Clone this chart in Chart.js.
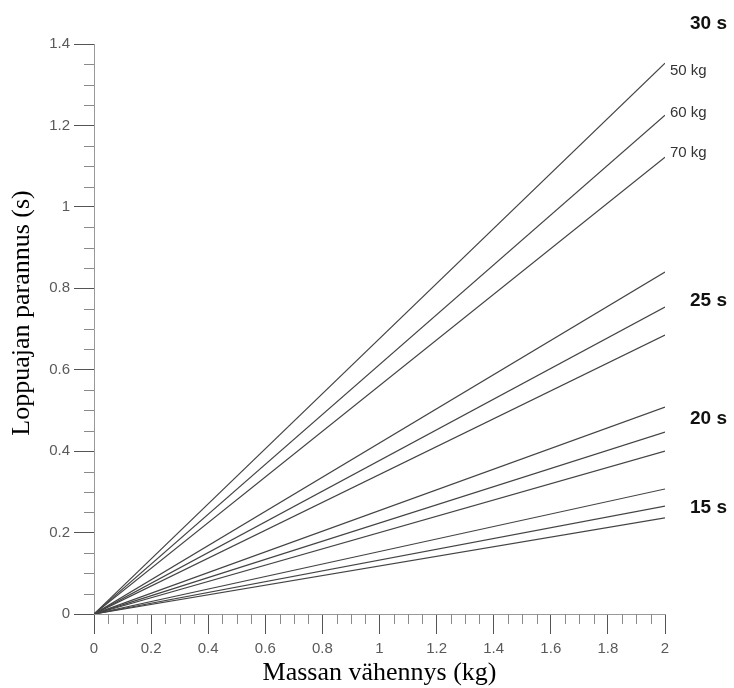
<!DOCTYPE html>
<html>
<head>
<meta charset="utf-8">
<title>Loppuajan parannus</title>
<script src="https://cdn.jsdelivr.net/npm/chart.js@4"></script>
<style>
  html, body { margin: 0; padding: 0; background: #fff; }
  #chartBox { width: 734px; height: 688px; }
</style>
</head>
<body>
<div id="chartBox"><canvas id="improvementChart" width="734" height="688"></canvas></div>
<script>
// Mass reduction (kg): every line starts at the origin and ends at 2 kg
const massReduction = [0, 2];
const raceTimes = ["30 s", "25 s", "20 s", "15 s"];
const bodyMasses = ["50 kg", "60 kg", "70 kg"];

// Finishing time improvement (s) at 2 kg, for 50 / 60 / 70 kg
const gain30s = [1.353, 1.225, 1.122];
const gain25s = [0.84, 0.754, 0.685];
const gain20s = [0.508, 0.447, 0.40];
const gain15s = [0.307, 0.265, 0.236];

// Labelled ticks
const xTickValues = [0, 0.2, 0.4, 0.6, 0.8, 1, 1.2, 1.4, 1.6, 1.8, 2];
const yTickValues = [0, 0.2, 0.4, 0.6, 0.8, 1, 1.2, 1.4];

const gainsByTime = [gain30s, gain25s, gain20s, gain15s];

const datasets = [];
gainsByTime.forEach((gains, i) => {
    gains.forEach((g, j) => {
        datasets.push({
            label: raceTimes[i] + " / " + bodyMasses[j],
            data: [
                { x: massReduction[0], y: 0 },
                { x: massReduction[1], y: g }
            ],
            borderColor: "#444",
            borderWidth: 1.2,
            pointRadius: 0,
            fill: false
        });
    });
});

function isLabelled(values, v) {
    return values.some(t => Math.abs(t - v) < 1e-6);
}

function tickText(values) {
    return function (value) {
        return isLabelled(values, value) ? String(Math.round(value * 10) / 10) : "";
    };
}

// where the group and body mass labels sit, in axis units
const timeLabelAt = [1.45, 0.77, 0.48, 0.26];
const massLabelAt = [1.334, 1.231, 1.132];

// short minor ticks, axis titles and the line labels on the right
const annotate = {
    id: "annotate",
    afterDraw(chart) {
        const { ctx, scales: { x, y } } = chart;
        ctx.save();

        ctx.strokeStyle = "#8a8a8a";
        ctx.lineWidth = 1;
        ctx.beginPath();
        y.ticks.forEach(t => {
            if (isLabelled(yTickValues, t.value)) return;
            const py = Math.round(y.getPixelForValue(t.value)) + 0.5;
            ctx.moveTo(x.left - 10, py);
            ctx.lineTo(x.left, py);
        });
        x.ticks.forEach(t => {
            if (isLabelled(xTickValues, t.value)) return;
            const px = Math.round(x.getPixelForValue(t.value)) + 0.5;
            ctx.moveTo(px, y.bottom);
            ctx.lineTo(px, y.bottom + 10);
        });
        ctx.stroke();

        // axis titles
        ctx.fillStyle = "#000";
        ctx.font = "26px 'Liberation Serif', 'Times New Roman', serif";
        ctx.textAlign = "center";
        ctx.textBaseline = "alphabetic";
        ctx.fillText("Massan vähennys (kg)", (x.left + x.right) / 2, 680);

        ctx.save();
        ctx.translate(29, 313);
        ctx.rotate(-Math.PI / 2);
        ctx.fillText("Loppuajan parannus (s)", 0, 0);
        ctx.restore();

        // race time labels
        ctx.textAlign = "left";
        ctx.textBaseline = "middle";
        ctx.fillStyle = "#111";
        ctx.font = "bold 19px 'Liberation Sans', Arial, sans-serif";
        raceTimes.forEach((t, i) => {
            ctx.fillText(t, x.right + 25, y.getPixelForValue(timeLabelAt[i]));
        });

        // body mass labels next to the 30 s lines
        ctx.fillStyle = "#333";
        ctx.font = "15px 'Liberation Sans', Arial, sans-serif";
        bodyMasses.forEach((m, i) => {
            ctx.fillText(m, x.right + 5, y.getPixelForValue(massLabelAt[i]));
        });

        ctx.restore();
    }
};

new Chart(document.getElementById("improvementChart").getContext("2d"), {
    type: "line",
    data: { datasets: datasets },
    options: {
        responsive: false,
        animation: false,
        devicePixelRatio: 1,
        layout: { padding: { top: 44, right: 69, bottom: 0, left: 0 } },
        plugins: {
            legend: { display: false },
            tooltip: { enabled: false }
        },
        scales: {
            x: {
                type: "linear",
                min: 0,
                max: 2,
                afterFit: scale => { scale.height = 74; },
                border: { color: "#999", width: 1 },
                grid: {
                    drawOnChartArea: false,
                    tickLength: 20,
                    tickColor: c => isLabelled(xTickValues, c.tick.value) ? "#555" : "rgba(0,0,0,0)"
                },
                ticks: {
                    stepSize: 0.05,
                    autoSkip: false,
                    maxRotation: 0,
                    padding: 6,
                    color: "#5a5a5a",
                    font: { family: "'Liberation Sans', Arial, sans-serif", size: 15 },
                    callback: tickText(xTickValues)
                }
            },
            y: {
                type: "linear",
                min: 0,
                max: 1.4,
                afterFit: scale => { scale.width = 94; },
                border: { color: "#999", width: 1 },
                grid: {
                    drawOnChartArea: false,
                    tickLength: 20,
                    tickColor: c => isLabelled(yTickValues, c.tick.value) ? "#555" : "rgba(0,0,0,0)"
                },
                ticks: {
                    stepSize: 0.05,
                    autoSkip: false,
                    padding: 4,
                    color: "#5a5a5a",
                    font: { family: "'Liberation Sans', Arial, sans-serif", size: 15 },
                    callback: tickText(yTickValues)
                }
            }
        }
    },
    plugins: [annotate]
});
</script>
</body>
</html>
